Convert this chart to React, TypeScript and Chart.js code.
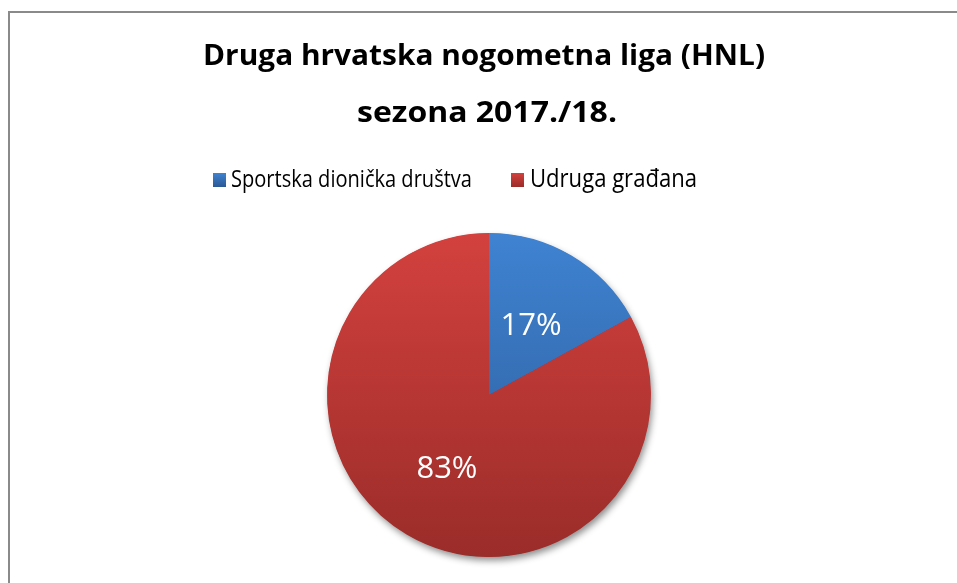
import React, { useEffect, useRef } from "react";
import { Chart, registerables } from "chart.js";

Chart.register(...registerables);

const titleLines = ["Druga hrvatska nogometna liga (HNL)", "sezona 2017./18."];
const categories = ["Sportska dionička društva", "Udruga građana"];
const shares = [17, 83];
const valueLabels = ["17%", "83%"];
const topColors = ["#3f83d2", "#d3413e"];
const bottomColors = ["#2b5894", "#9a2c29"];

function fitText(ctx: CanvasRenderingContext2D, text: string, x: number, y: number, w: number, align: "left" | "center") {
  const m = ctx.measureText(text).width;
  const s = w / m;
  ctx.save();
  const left = align === "center" ? x - w / 2 : x;
  ctx.translate(left, y);
  ctx.scale(s, 1);
  ctx.textAlign = "left";
  ctx.fillText(text, 0, 0);
  ctx.restore();
}

const decorPlugin = {
  id: "decor",
  beforeDatasetsDraw(chart: any) {
    const ctx = chart.ctx as CanvasRenderingContext2D;
    const arc = chart.getDatasetMeta(0).data[0];
    if (!arc) return;
    ctx.save();
    ctx.shadowColor = "rgba(0,0,0,0.45)";
    ctx.shadowBlur = 7;
    ctx.shadowOffsetX = 2;
    ctx.shadowOffsetY = 4;
    ctx.fillStyle = "#a33030";
    ctx.beginPath();
    ctx.arc(arc.x, arc.y, arc.outerRadius - 0.5, 0, Math.PI * 2);
    ctx.fill();
    ctx.restore();
  },
  afterDatasetsDraw(chart: any) {
    const ctx = chart.ctx as CanvasRenderingContext2D;
    const meta = chart.getDatasetMeta(0);
    ctx.save();
    ctx.fillStyle = "#ffffff";
    ctx.font = "31px 'Open Sans', 'Liberation Sans', sans-serif";
    ctx.textAlign = "center";
    ctx.textBaseline = "alphabetic";
    meta.data.forEach((el: any, i: number) => {
      const mid = (el.startAngle + el.endAngle) / 2;
      const r = el.outerRadius * 0.51;
      const x = el.x + Math.cos(mid) * r;
      const y = el.y + Math.sin(mid) * r;
      ctx.fillText(valueLabels[i], x, y + 11.5);
    });
    ctx.restore();
  },
  afterDraw(chart: any) {
    const ctx = chart.ctx as CanvasRenderingContext2D;
    ctx.save();
    ctx.fillStyle = "#000000";
    ctx.font = "bold 29px 'Open Sans', 'Liberation Sans', sans-serif";
    ctx.textBaseline = "alphabetic";
    fitText(ctx, titleLines[0], 484, 65, 562, "center");
    fitText(ctx, titleLines[1], 487, 122, 260, "center");

    const sq = [
      { x: 213, y: 173, tx: 231, tw: 241, size: 23 },
      { x: 511, y: 173, tx: 530, tw: 167, size: 25 },
    ];
    sq.forEach((s, i) => {
      const g = ctx.createLinearGradient(0, s.y, 0, s.y + 14);
      g.addColorStop(0, topColors[i]);
      g.addColorStop(1, bottomColors[i]);
      ctx.fillStyle = g;
      ctx.fillRect(s.x, s.y, 13, 14);
      ctx.fillStyle = "#000000";
      ctx.font = `${s.size}px 'Open Sans', 'Liberation Sans', sans-serif`;
      fitText(ctx, categories[i], s.tx, 187, s.tw, "left");
    });
    ctx.restore();
  },
};

export default function App() {
  const ref = useRef<HTMLCanvasElement | null>(null);

  useEffect(() => {
    if (!ref.current) return;
    const chart = new Chart(ref.current, {
      type: "pie",
      data: {
        labels: categories,
        datasets: [
          {
            data: shares,
            borderWidth: 0,
            backgroundColor: (c: any) => {
              const area = c.chart.chartArea;
              if (!area) return topColors[c.dataIndex];
              const g = c.chart.ctx.createLinearGradient(0, area.top, 0, area.bottom);
              g.addColorStop(0, topColors[c.dataIndex]);
              g.addColorStop(1, bottomColors[c.dataIndex]);
              return g;
            },
          },
        ],
      },
      options: {
        responsive: false,
        devicePixelRatio: 1,
        animation: false,
        layout: { padding: { left: 327, right: 306, top: 233, bottom: 26 } },
        plugins: {
          legend: { display: false },
          title: { display: false },
          tooltip: { enabled: false },
        },
      },
      plugins: [decorPlugin],
    });
    return () => chart.destroy();
  }, []);

  return (
    <div style={{ position: "fixed", left: 0, top: 0, width: 957, height: 583, overflow: "hidden", background: "#ffffff" }}>
      <canvas ref={ref} width={957} height={583} style={{ position: "absolute", left: 0, top: 0, width: 957, height: 583 }} />
      <div
        style={{
          position: "absolute",
          left: 8,
          top: 11,
          width: 1000,
          height: 1000,
          borderLeft: "2px solid #8a8a8a",
          borderTop: "2px solid #8a8a8a",
          boxSizing: "border-box",
          pointerEvents: "none",
        }}
      />
    </div>
  );
}
